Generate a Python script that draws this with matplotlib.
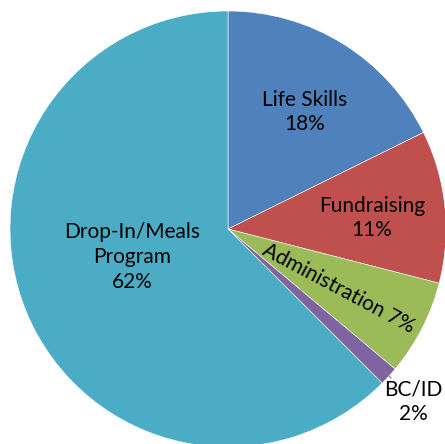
import matplotlib.pyplot as plt

categories = ["Life Skills", "Fundraising", "Administration", "BC/ID", "Drop-In/Meals\nProgram"]
values = [17.7, 11.3, 7.1, 1.4, 62.5]
pct_labels = ["18%", "11%", "7%", "2%", "62%"]
colors = ["#4F81BD", "#C0504D", "#9BBB59", "#8064A2", "#4BACC6"]

plt.rcParams['font.family'] = ['Lato', 'DejaVu Sans']

fig = plt.figure(figsize=(4.45, 4.44), dpi=100)
ax = fig.add_axes([0, 0, 1, 1])
r = 218.0

wedges, _ = ax.pie(values, colors=colors, startangle=90, counterclock=False,
                   radius=1, center=(0, 0), frame=True,
                   wedgeprops=dict(edgecolor='white', linewidth=0.4))
ax.set_xlim(-228 / r, (445 - 228) / r)
ax.set_ylim(-(444 - 229) / r, 229 / r)
ax.set_aspect('auto')
ax.axis('off')

def px(x, y):
    return ((x - 228) / r, (229 - y) / r)

fs = 15
ls = 1.3
ax.text(*px(305, 112), categories[0] + "\n" + pct_labels[0], ha='center', va='center', fontsize=fs, linespacing=ls)
ax.text(*px(372, 218), categories[1] + "\n" + pct_labels[1], ha='center', va='center', fontsize=fs, linespacing=ls)
ax.text(*px(339, 288), categories[2] + " " + pct_labels[2], ha='center', va='center', fontsize=fs,
        rotation=-28, rotation_mode='anchor')
ax.text(*px(413, 402), categories[3] + "\n" + pct_labels[3], ha='center', va='center', fontsize=fs, linespacing=ls)
ax.text(*px(132, 257), categories[4] + "\n" + pct_labels[4], ha='center', va='center', fontsize=fs, linespacing=ls)
ax.plot(*zip(px(385, 372), px(391, 378)), color='#7f7f7f', linewidth=0.8)

fig.savefig("out.png", dpi=100)
